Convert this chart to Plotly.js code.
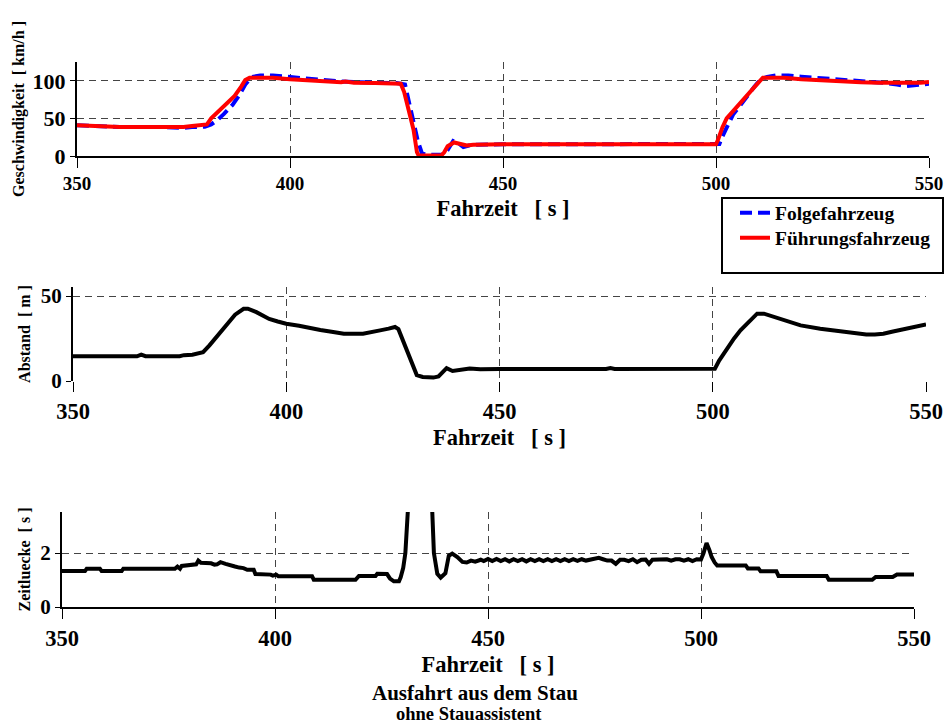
<!DOCTYPE html>
<html>
<head>
<meta charset="utf-8">
<script src="https://cdn.plot.ly/plotly-3.0.1.min.js"></script>
<style>html,body{margin:0;padding:0;background:#fff;}#chart{width:944px;height:727px;}</style>
</head>
<body>
<div id="chart"></div>
<script>
// ---- Data ----
const tFolge = [350,355,360,370,375,377,380,381.5,383,384.5,386.5,388,389.5,391,393,396,398,400,402,405,408,412,416,420,425,427,427.8,429,430,431,432,434,436,437,438.3,439.5,440.7,442,444,450,460,470,480,490,500,500.8,501.5,502.5,504,505.5,507.2,509,510.5,512,514,517,520,524,528,532,536,540,542.5,544.5,546.5,549,550];
const vFolge = [41,39.5,38.5,38.5,37.5,38.5,39,42,48,56,68,80,95,105,107,107,106,104,103.5,102.5,101,99,98,97.5,97,95,75,45,20,3,2,1.5,1.5,8,20,17,12,14,15,15.5,15.5,15.5,15.5,15.5,15.5,16,26,38,55,66,79,92,102,105,107,107,105.5,104,102,100,98.5,97,95,93,94,95,96];

const tFuehr = [350,353,356,360,365,370,375,377,379.5,380.5,381.5,383,385,387,388.5,389.5,390.5,393,396,400,403,405,410,412,413,415,420,425,426,426.8,428,429,429.8,430.2,433,435.5,436.2,437,438.5,440,441.5,443,445,450,460,470,480,490,495,500,500.5,501.5,502.5,504,505.5,507,508.5,510,511,513,516,520,523,525,530,534,538,544,548,550];
const vFuehr = [41,40,39,38.5,38.5,38.5,38.5,40,41,42,50,58,68,80,92,101,104,104.5,104,102,101,100,99.5,98,99,97.5,97,97,96,85,60,35,5,0.5,0.5,0.5,5,13,18,16.5,14,15,15.5,15.5,15.5,15.5,15.5,15.5,15.5,15.5,22,38,50,60,68,78,88,98,104,104.5,104,102,101,100.5,99.5,98,97.5,97,97.5,98.5];

const tAbstand = [350,365,366,367,375,376,378,379.5,380.5,382,384,386,388,390,391,393,396,398,400,403,405,408,411,413.5,418,420,422,424,425.5,426.3,427,428,429.5,430.6,432,434.5,435.7,436.5,437.6,439,440.8,443,445.5,450,475,476,477,500,500.5,501.5,503,505,506.5,508.5,510.4,512,514,516.7,520.6,525.2,530.7,533,536,538,540,542,544.8,547,550];
const dAbstand = [14.5,14.5,15.5,14.6,14.6,15.2,15.5,16.5,17,21,27,33,39,42.5,42.5,40.5,36.5,35,33.7,32.5,31.4,30,28.8,27.8,27.8,28.6,29.8,30.8,31.8,30.5,26,20,10,3.5,2.4,2,2.7,5,7.6,5.9,6.3,7.3,6.9,7.1,7.1,7.6,7.1,7.1,7.2,12,18,25,29.8,35,39.6,39.6,38,35.7,32.7,30.8,28.8,28,27.3,27.3,27.8,29,30.4,31.5,33.3];

const tLuecke = [350,355.4,355.8,358.9,359.3,364,364.4,376.5,377.1,377.7,378.1,380,381.5,382,382.6,385,385.8,386.4,387.2,388.4,389.8,390.6,391.6,392.6,393.5,395,395.4,399,399.5,400.3,400.8,408.7,409.1,418.9,419.7,423.6,424,426.3,427,427.9,429.1,429.5,430.1,430.6,431.2,431.8,436.5,436.9,437.3,438.1,438.9,440,440.8,441.6,442.8,444,445,446,447,448.3,449,450,451,452,453,454,455,456,457,458,459,460,461,462,463,464,465,466,467,468,469,470,471,472,473,474,475,476,477,478,479,480,481,482,483,484,485,486,487,487.8,488.6,490,492,493,494,495,496,497,498,499,500,500.6,501.3,502,502.5,503.2,503.8,510.5,511,513.5,514,517.7,518.2,529.5,530,540.2,541,545,546,550];
const sLuecke = [1.33,1.33,1.42,1.42,1.33,1.33,1.42,1.42,1.5,1.42,1.52,1.55,1.58,1.72,1.64,1.62,1.57,1.58,1.66,1.6,1.56,1.5,1.46,1.44,1.38,1.38,1.22,1.2,1.16,1.2,1.14,1.14,1.01,1.01,1.15,1.15,1.23,1.22,1.05,0.95,0.95,1.1,1.45,2,3.6,8,8,3.6,2,1.23,1.09,1.25,1.9,1.98,1.85,1.67,1.65,1.72,1.68,1.75,1.7,1.78,1.7,1.78,1.7,1.77,1.69,1.77,1.7,1.77,1.69,1.77,1.7,1.77,1.7,1.77,1.7,1.77,1.7,1.77,1.7,1.77,1.71,1.77,1.72,1.76,1.77,1.82,1.77,1.72,1.72,1.6,1.75,1.75,1.7,1.77,1.66,1.75,1.76,1.6,1.75,1.77,1.77,1.72,1.77,1.77,1.72,1.77,1.7,1.77,1.76,2.0,2.37,2.1,1.85,1.65,1.54,1.54,1.43,1.43,1.32,1.32,1.15,1.15,1.01,1.01,1.11,1.11,1.2,1.2];

const xTicks = [350,400,450,500,550];
const vTicks = [0,50,100];
const dTicks = [0,50];
const sTicks = [0,2];

// ---- Layout helpers ----
const W = 944, H = 727;
const px = v => v / W;
const py = v => 1 - v / H;
const FONT = '"Liberation Serif"';
const GRID = '#444';
const GDASH = '7px,5px';

function xAx(dom, anchor, tickSize, showline, standoff) {
  return {
    domain: dom, anchor: anchor, range: [350, 550], tickvals: xTicks, ticktext: xTicks.map(String),
    showgrid: true, gridcolor: GRID, griddash: GDASH, gridwidth: 1,
    ticks: 'outside', ticklen: 10, tickcolor: '#000', tickwidth: 1,
    showline: showline, linecolor: '#000', linewidth: 1.5, zeroline: false,
    tickfont: {family: FONT, size: tickSize, color: '#000', weight: 'bold'},
    title: {text: 'Fahrzeit\u00a0\u00a0\u00a0[ s ]', font: {family: FONT, size: 22.5, color: '#000', weight: 'bold'}, standoff: standoff},
    fixedrange: true
  };
}
function yAx(dom, anchor, range, ticks, title, tickSize, standoff) {
  return {
    domain: dom, anchor: anchor, range: range, tickvals: ticks, ticktext: ticks.map(String),
    showgrid: true, gridcolor: GRID, griddash: GDASH, gridwidth: 1,
    ticks: 'outside', ticklen: 5, tickcolor: '#000', tickwidth: 1,
    showline: true, linecolor: '#000', linewidth: 2, zeroline: false,
    tickfont: {family: FONT, size: tickSize, color: '#000', weight: 'bold'},
    title: {text: title, font: {family: FONT, size: 16, color: '#000', weight: 'bold'}, standoff: standoff},
    fixedrange: true
  };
}

const traces = [
  {x: tFolge, y: vFolge, xaxis: 'x', yaxis: 'y', mode: 'lines', name: 'Folgefahrzeug', legend: 'legend',
   line: {color: '#0000ff', width: 4, dash: '12px,6px'}},
  {x: tFuehr, y: vFuehr, xaxis: 'x', yaxis: 'y', mode: 'lines', name: 'Führungsfahrzeug', legend: 'legend2',
   line: {color: '#ff0000', width: 4}},
  {x: tAbstand, y: dAbstand, xaxis: 'x2', yaxis: 'y2', mode: 'lines', showlegend: false,
   line: {color: '#000', width: 4}},
  {x: tLuecke, y: sLuecke, xaxis: 'x3', yaxis: 'y3', mode: 'lines', showlegend: false,
   line: {color: '#000', width: 4}}
];

const legFont = {family: FONT, size: 19.5, color: '#000', weight: 'bold'};
const layout = {
  width: W, height: H,
  margin: {l: 0, r: 0, t: 0, b: 0},
  paper_bgcolor: '#fff', plot_bgcolor: '#fff',
  font: {family: FONT, color: '#000'},
  showlegend: true,
  xaxis: xAx([px(77), px(929)], 'y', 19, true, 7),
  yaxis: yAx([py(156), py(62)], 'x', [0, 125], vTicks, 'Geschwindigkeit\u00a0\u00a0[ km/h ]', 22, 4),
  xaxis2: xAx([px(73), px(926)], 'y2', 22.5, false, 6),
  yaxis2: yAx([py(381), py(287)], 'x2', [0, 55.3], dTicks, 'Abstand\u00a0\u00a0[ m ]', 21, 6),
  xaxis3: xAx([px(62), px(914)], 'y3', 22.5, true, 6),
  yaxis3: yAx([py(607), py(512)], 'x3', [0, 3.52], sTicks, 'Zeitluecke\u00a0\u00a0[ s ]', 21, 6),
  legend: {
    x: px(735), y: py(213), xanchor: 'left', yanchor: 'middle',
    bgcolor: 'rgba(0,0,0,0)', borderwidth: 0, font: legFont
  },
  legend2: {
    x: px(735), y: py(238), xanchor: 'left', yanchor: 'middle',
    bgcolor: 'rgba(0,0,0,0)', borderwidth: 0, font: legFont
  },
  shapes: [
    {type: 'rect', xref: 'paper', yref: 'paper', x0: px(722), x1: px(943), y0: py(273), y1: py(198),
     line: {color: '#000', width: 2}, fillcolor: 'rgba(0,0,0,0)', layer: 'above'}
  ],
  annotations: [
    {xref: 'paper', yref: 'paper', x: px(475), y: py(693), text: 'Ausfahrt aus dem Stau', showarrow: false,
     xanchor: 'center', yanchor: 'middle', font: {family: FONT, size: 21, color: '#000', weight: 'bold'}},
    {xref: 'paper', yref: 'paper', x: px(469), y: py(714), text: 'ohne Stauassistent', showarrow: false,
     xanchor: 'center', yanchor: 'middle', font: {family: FONT, size: 18.5, color: '#000', weight: 'bold'}}
  ]
};

Plotly.newPlot('chart', traces, layout, {staticPlot: true, displayModeBar: false});
</script>
</body>
</html>
